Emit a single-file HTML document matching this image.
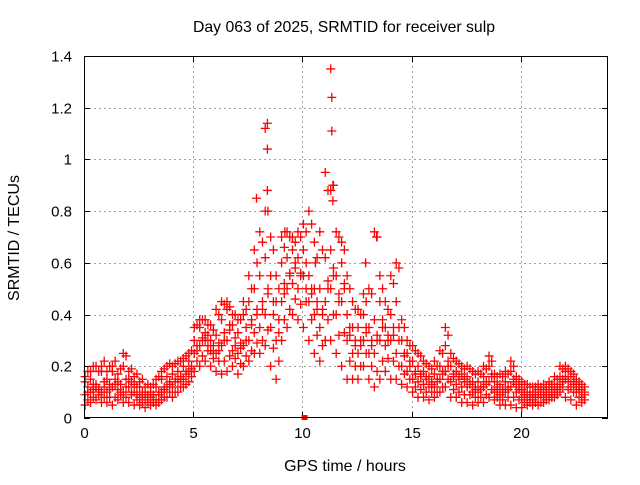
<!DOCTYPE html>
<html><head><meta charset="utf-8"><style>
body{margin:0;background:#fff;}
svg text{font-family:"Liberation Sans",sans-serif;font-size:15px;fill:#000;}
</style></head><body>
<svg id="chart" width="640" height="480" xmlns="http://www.w3.org/2000/svg">
<rect width="640" height="480" fill="#fff"/>
<text x="344" y="32" text-anchor="middle" style="font-size:15.8px">Day 063 of 2025, SRMTID for receiver sulp</text>
<text transform="translate(19,238) rotate(-90)" text-anchor="middle" style="font-size:16px">SRMTID / TECUs</text>
<text x="345" y="471" text-anchor="middle" style="font-size:16px">GPS time / hours</text>
<g id="grid"></g>
<g id="ticks"></g>
<g id="marks"></g>
<rect x="84.5" y="56.5" width="523" height="361" fill="none" stroke="#000" stroke-width="1"/>
</svg>
<script>
const xTicks=[0,5,10,15,20];
const yTicks=[0,0.2,0.4,0.6,0.8,1,1.2,1.4];
const yTickLabels=["0","0.2","0.4","0.6","0.8","1","1.2","1.4"];
const step=0.25;
const seriesLow=[.05,.06,.07,.06,.06,.05,.07,.06,.06,.05,.05,.04,.05,.05,.07,.08,.08,.1,.12,.14,.18,.2,.22,.2,.18,.17,.18,.2,.17,.2,.22,.25,.25,.28,.2,.15,.3,.35,.4,.38,.35,.3,.25,.22,.3,.3,.25,.2,.15,.15,.15,.2,.15,.12,.15,.18,.15,.15,.13,.12,.1,.08,.08,.07,.08,.1,.12,.08,.08,.06,.06,.05,.06,.06,.08,.07,.05,.05,.05,.04,.04,.05,.05,.05,.06,.07,.08,.1,.08,.07,.05,.06];
const seriesMid1=[.09,.1,.12,.1,.1,.12,.11,.1,.12,.1,.08,.07,.08,.07,.1,.12,.12,.14,.15,.18,.25,.28,.3,.26,.25,.28,.3,.26,.25,.28,.3,.33,.35,.4,.35,.3,.45,.5,.52,.5,.55,.45,.4,.35,.45,.5,.4,.45,.3,.25,.25,.3,.25,.25,.3,.28,.3,.25,.2,.18,.15,.14,.13,.12,.12,.15,.18,.14,.13,.12,.12,.1,.1,.12,.14,.1,.09,.1,.12,.1,.08,.07,.07,.08,.08,.09,.1,.13,.15,.12,.1,.08];
const seriesMid2=[.14,.15,.13,.18,.15,.18,.14,.2,.15,.13,.12,.1,.1,.12,.15,.16,.17,.18,.2,.22,.3,.35,.33,.3,.32,.38,.42,.36,.33,.4,.45,.5,.55,.62,.55,.45,.6,.62,.65,.62,.65,.55,.5,.5,.62,.65,.55,.6,.4,.35,.35,.4,.35,.38,.45,.35,.4,.45,.3,.25,.22,.2,.18,.16,.17,.2,.28,.2,.18,.17,.16,.14,.14,.16,.2,.14,.13,.14,.18,.13,.11,.1,.1,.11,.11,.12,.13,.16,.18,.16,.13,.11];
const seriesHigh=[.16,.18,.2,.2,.18,.2,.17,.25,.18,.16,.14,.12,.12,.15,.18,.2,.2,.22,.23,.25,.35,.38,.38,.36,.42,.45,.45,.4,.38,.45,.55,.65,.72,1.12,.7,.55,.7,.72,.7,.72,.75,.8,.68,.72,.95,1.35,.72,.68,.55,.45,.42,.48,.5,.72,.55,.45,.55,.6,.38,.3,.28,.25,.22,.2,.22,.26,.35,.25,.22,.2,.2,.18,.18,.2,.24,.17,.17,.18,.22,.16,.14,.13,.12,.13,.13,.14,.16,.2,.2,.18,.15,.13];
const seriesB1=[.07,.08,.09,.08,.08,.08,.09,.08,.09,.07,.06,.06,.06,.06,.08,.1,.1,.12,.13,.16,.22,.24,.26,.23,.22,.22,.24,.23,.21,.24,.26,.29,.3,.34,.27,.22,.38,.42,.46,.44,.45,.38,.32,.28,.38,.4,.32,.33,.22,.2,.2,.25,.2,.18,.22,.23,.22,.2,.17,.15,.12,.11,.1,.1,.1,.12,.15,.11,.1,.09,.09,.08,.08,.09,.11,.08,.07,.08,.08,.07,.06,.06,.06,.06,.07,.08,.09,.12,.11,.1,.08,.07];
const seriesB2=[.12,.13,.11,.14,.13,.15,.13,.15,.14,.12,.1,.09,.09,.1,.12,.14,.15,.16,.18,.2,.28,.31,.32,.28,.29,.33,.36,.31,.29,.35,.38,.42,.45,.5,.45,.38,.52,.56,.58,.56,.6,.5,.45,.42,.53,.58,.48,.52,.35,.3,.3,.35,.3,.32,.38,.32,.35,.35,.25,.22,.18,.17,.16,.14,.15,.18,.22,.17,.16,.15,.14,.12,.12,.14,.17,.12,.11,.12,.15,.12,.1,.09,.09,.1,.1,.11,.12,.15,.16,.14,.12,.1];
const seriesB3=[.1,.11,.1,.12,.11,.13,.1,.12,.1,.09,.09,.08,.07,.09,.11,.13,.14,.15,.17,.19,.26,.3,.28,.25,.26,.3,.34,.28,.27,.3,.36,.4,.42,.48,.4,.33,.48,.55,.6,.55,.5,.48,.42,.4,.5,.55,.45,.5,.32,.28,.28,.33,.28,.3,.35,.3,.32,.3,.24,.2,.17,.16,.15,.13,.14,.17,.2,.16,.15,.14,.13,.11,.11,.13,.16,.11,.1,.11,.14,.11,.09,.08,.08,.09,.09,.1,.11,.14,.14,.13,.11,.09];
const seriesB4=[.18,.2,.18,.22,.2,.22,.19,.24,.19,.17,.15,.13,.13,.16,.19,.21,.21,.22,.24,.26,.36,.38,.36,.34,.4,.44,.43,.4,.38,.42,.5,.6,.68,.8,.65,.5,.66,.7,.68,.7,.72,.75,.62,.65,.88,.9,.7,.65,.5,.42,.4,.45,.48,.7,.5,.42,.52,.58,.35,.28,.26,.24,.21,.19,.2,.25,.32,.23,.21,.19,.19,.17,.17,.19,.22,.16,.16,.17,.2,.15,.13,.12,.12,.12,.12,.13,.15,.19,.19,.17,.14,.12];
const extraT=[8.4,8.4,8.4,11.35,11.35,11.4,7.9,9.2,12.9,13.4,8.3,11.3,11.4,10.6];
const extraV=[1.14,1.04,0.88,1.24,1.11,0.9,0.85,0.72,0.6,0.7,0.8,0.88,0.84,0.6];
const x0=84,x1=608,y0=418,y1=56,xMax=24,yMax=1.4;
const X=t=>x0+t/xMax*(x1-x0);
const Y=v=>y0-v/yMax*(y0-y1);
const NS="http://www.w3.org/2000/svg";
const grid=document.getElementById('grid'),ticks=document.getElementById('ticks'),marks=document.getElementById('marks');
function ln(g,a,b,c,d,st,dash){const l=document.createElementNS(NS,'line');l.setAttribute('x1',a);l.setAttribute('y1',b);l.setAttribute('x2',c);l.setAttribute('y2',d);l.setAttribute('stroke',st);if(dash)l.setAttribute('stroke-dasharray',dash);g.appendChild(l);return l;}
xTicks.forEach(t=>{const x=Math.round(X(t))+0.5;
 if(t>0){const g=ln(grid,x,y0,x,y1,'#a0a0a0','2,3');}
 ln(ticks,x,y0,x,y0-6,'#000');ln(ticks,x,y1,x,y1+6,'#000');
 const tx=document.createElementNS(NS,'text');tx.setAttribute('x',x);tx.setAttribute('y',y0+20);tx.setAttribute('text-anchor','middle');tx.textContent=t;
 
 
 ticks.appendChild(tx);});
yTicks.forEach((v,i)=>{const y=Math.round(Y(v))+0.5;
 if(v>0&&v<yMax){const g=ln(grid,x0,y,x1,y,'#a0a0a0','2,3');}
 ln(ticks,x0,y,x0+6,y,'#000');ln(ticks,x1,y,x1-6,y,'#000');
 const tx=document.createElementNS(NS,'text');tx.setAttribute('x',x0-12);tx.setAttribute('y',y+5);tx.setAttribute('text-anchor','end');tx.textContent=yTickLabels[i];
 
 
 ticks.appendChild(tx);});
function plus(t,v){const x=X(t),y=Y(v);const p=document.createElementNS(NS,'path');
 p.setAttribute('d',`M${x-4.5} ${y}H${x+4.5}M${x} ${y-4.5}V${y+4.5}`);p.setAttribute('stroke','#f00');p.setAttribute('stroke-width','1.3');
 
 
 marks.appendChild(p);}
[seriesLow,seriesMid1,seriesMid2,seriesHigh].forEach(s=>s.forEach((v,i)=>plus(i*step+0.05,v)));
[seriesB1,seriesB2,seriesB3,seriesB4].forEach(s=>s.forEach((v,i)=>plus(i*step+0.175,v)));
extraT.forEach((t,i)=>plus(t,extraV[i]));
const sq=document.createElementNS(NS,'rect');sq.setAttribute('x',X(10.1)-3);sq.setAttribute('y',y0-3);sq.setAttribute('width',6);sq.setAttribute('height',5);sq.setAttribute('fill','#f00');


marks.appendChild(sq);
</script>
</body></html>
